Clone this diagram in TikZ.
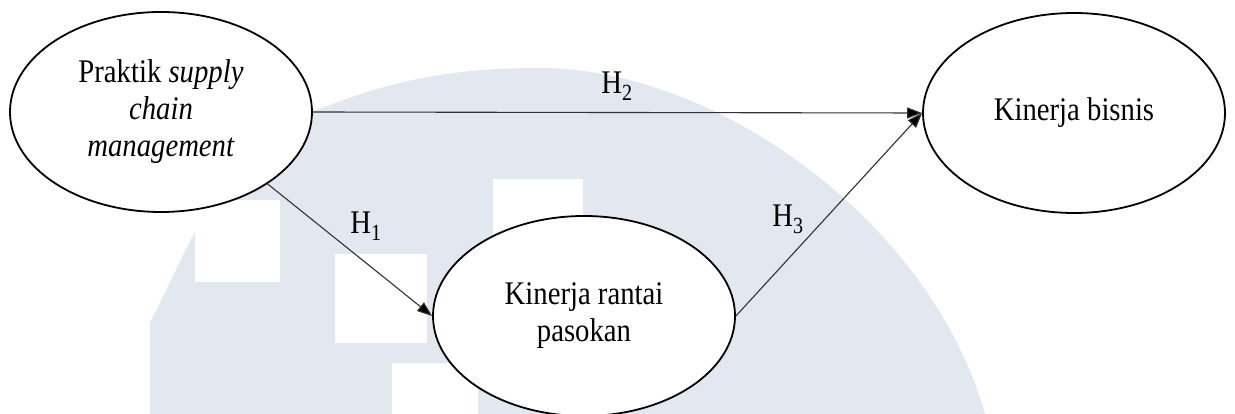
\documentclass[tikz,border=0pt]{standalone}
\usepackage{fontspec}
\setmainfont[FakeStretch=0.87]{Liberation Serif}
\usetikzlibrary{shapes.geometric,arrows.meta}

\definecolor{wmark}{RGB}{227,232,240}
\definecolor{edgegray}{RGB}{50,50,50}

\tikzset{
  construct/.style={ellipse, draw=black, line width=1.8pt, fill=white,
    minimum width=302pt, minimum height=200pt, inner sep=0pt, align=center,
    font=\fontsize{33}{37}\selectfont},
  path/.style={draw=edgegray, line width=1.1pt,
    -{Triangle[length=15pt,width=11pt,fill=black]}},
  hlabel/.style={font=\fontsize{33}{36}\selectfont, inner sep=1pt},
  window/.style={fill=white, draw=none}
}

\begin{document}
\begin{tikzpicture}[x=1pt,y=-1pt]
  % canvas
  \fill[white] (0,0) rectangle (1235,414);
  \useasboundingbox (0,0) rectangle (1235,414);

  % faint logo in the background
  \fill[wmark] (150,414) -- (150,323) -- (193,235)
    .. controls (230,170) and (270,125) .. (330,105)
    .. controls (400,78) and (460,68) .. (540,68)
    .. controls (715,68) and (930,220) .. (985,414) -- cycle;
  \fill[window] (195,200) rectangle (280,282);
  \fill[window] (335,254) rectangle (427,343);
  \fill[window] (392,363) rectangle (478,414);
  \fill[window] (493,179) rectangle (583,240);

  % constructs
  \node[construct] (scm) at (161,112) {Praktik \textit{supply}\\ \textit{chain}\\ \textit{management}};
  \node[construct] (scp) at (584,316) {Kinerja rantai\\ pasokan};
  \node[construct] (biz) at (1074,113) {Kinerja bisnis};

  % hypothesised paths
  \draw[path] (scm.east) -- (biz.west);
  \draw[path] (scm.-34) -- (scp.west);
  \draw[path] (scp.east) -- (biz.west);

  % hypothesis labels
  \node[hlabel] (h1) at (366,226) {H\textsubscript{1}};
  \node[hlabel] (h2) at (617,86) {H\textsubscript{2}};
  \node[hlabel] (h3) at (788,219) {H\textsubscript{3}};
\end{tikzpicture}
\end{document}
